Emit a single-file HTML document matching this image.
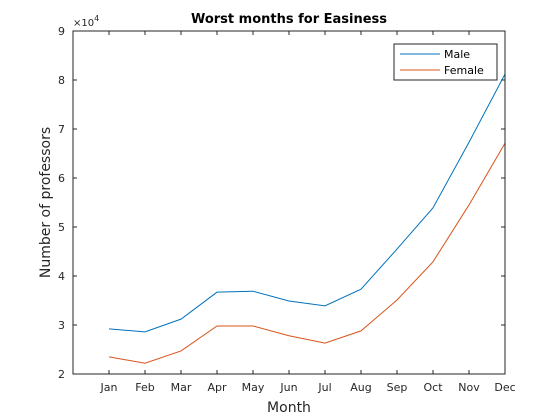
<!DOCTYPE html>
<html><head><meta charset="utf-8"><style>
body{margin:0;background:#fff;}
svg{display:block;font-family:"DejaVu Sans","Liberation Sans",sans-serif;}
</style></head><body>
<svg id="chart" width="560" height="420">
<rect x="0" y="0" width="560" height="420" fill="#fff"/>
<rect x="73" y="31" width="432" height="343" fill="#fff"/>
<g id="grid"></g>
<g id="series"></g>
<rect x="73" y="31" width="432" height="343" fill="none" stroke="#262626" stroke-width="1"/>
<text x="289" y="23" text-anchor="middle" font-size="13" font-weight="bold" fill="#000">Worst months for Easiness</text>
<text x="289" y="412" text-anchor="middle" font-size="14" fill="#262626">Month</text>
<text transform="translate(50,202.5) rotate(-90)" text-anchor="middle" font-size="14" fill="#262626">Number of professors</text>
<text x="73" y="26" font-size="10" fill="#262626">×10<tspan font-size="8" dy="-5">4</tspan></text>
<g>
<rect x="394" y="44" width="103" height="36" fill="#fff" stroke="#262626" stroke-width="1"/>
<line x1="400" y1="54" x2="440" y2="54" stroke="#0072bd"/>
<text x="444" y="58" font-size="11" fill="#000">Male</text>
<line x1="400" y1="70" x2="440" y2="70" stroke="#d95319"/>
<text x="444" y="74" font-size="11" fill="#000">Female</text>
</g>
</svg>
<script>
const months=["Jan","Feb","Mar","Apr","May","Jun","Jul","Aug","Sep","Oct","Nov","Dec"];
const maleValues=[2.92,2.86,3.12,3.67,3.69,3.49,3.39,3.73,4.55,5.39,6.73,8.12];
const femaleValues=[2.35,2.22,2.47,2.98,2.98,2.78,2.63,2.88,3.51,4.29,5.45,6.71];
const yTicks=[2,3,4,5,6,7,8,9];
const X0=73,X1=505,Y0=374,Y1=31;
function xs(i){return X0+(i+1)/12*(X1-X0);}
function ys(v){return Y0-(v-2)/7*(Y0-Y1);}
const NS="http://www.w3.org/2000/svg";
const g=document.getElementById('grid'),s=document.getElementById('series');
function mk(tag,attrs,parent){const e=document.createElementNS(NS,tag);for(const k in attrs)e.setAttribute(k,attrs[k]);parent.appendChild(e);return e;}
months.forEach((m,i)=>{
  const x=xs(i);
  const t1=mk('line',{x1:x,x2:x,y1:Y0,y2:Y0-4,stroke:'#262626'},g);
  
  
  const t2=mk('line',{x1:x,x2:x,y1:Y1,y2:Y1+4,stroke:'#262626'},g);
  
  
  const tx=mk('text',{x:x,y:Y0+17,'text-anchor':'middle','font-size':11,fill:'#262626'},g);
  tx.textContent=m;
  
  
});
yTicks.forEach(v=>{
  const y=ys(v);
  const t1=mk('line',{x1:X0,x2:X0+4,y1:y,y2:y,stroke:'#262626'},g);
  
  
  const t2=mk('line',{x1:X1,x2:X1-4,y1:y,y2:y,stroke:'#262626'},g);
  
  
  const tx=mk('text',{x:X0-8,y:y+4,'text-anchor':'end','font-size':11,fill:'#262626'},g);
  tx.textContent=v;
  
  
});
function line(vals,color,name){
  const p=mk('polyline',{points:vals.map((v,i)=>xs(i)+','+ys(v)).join(' '),fill:'none',stroke:color,'stroke-width':1},s);
  
  
}
line(maleValues,'#0072bd','male-line');
line(femaleValues,'#d95319','female-line');
</script>
</body></html>
